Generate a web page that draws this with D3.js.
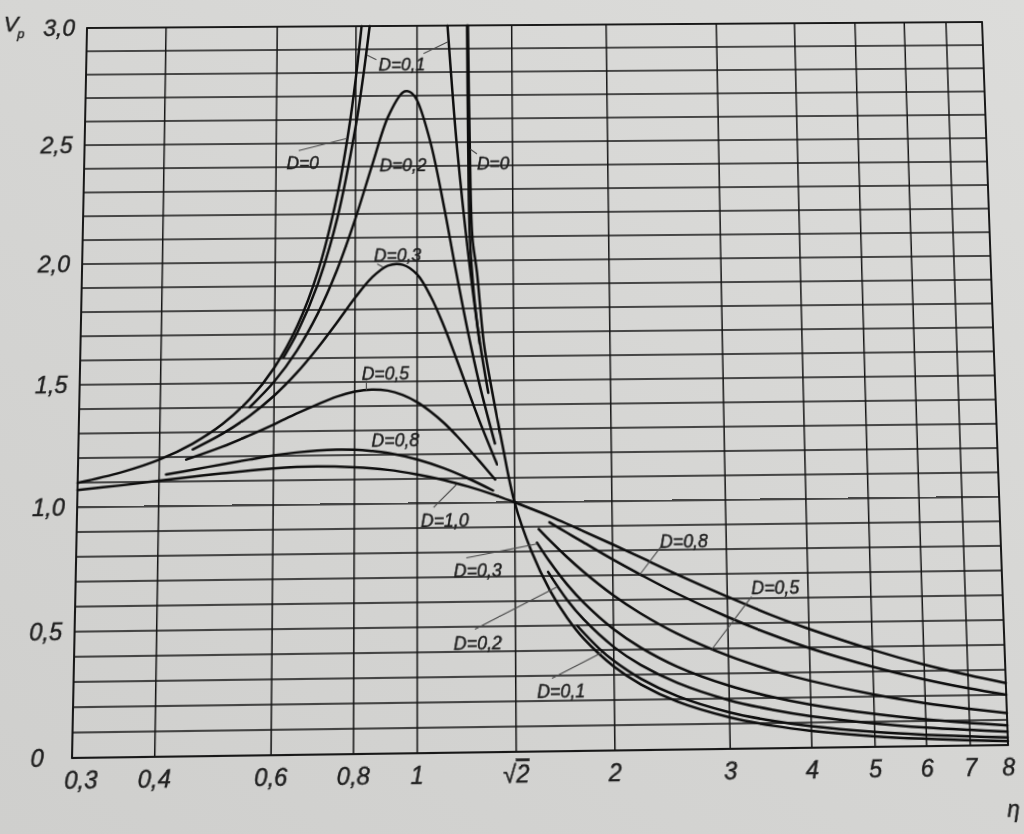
<!DOCTYPE html>
<html>
<head>
<meta charset="utf-8">
<script src="https://cdn.jsdelivr.net/npm/d3@7"></script>
<style>
  html, body { margin: 0; padding: 0; width: 1024px; height: 834px; overflow: hidden;
    background: linear-gradient(35deg, #cfcfcd 0%, #d6d6d4 55%, #dcdcda 100%); }
  #chart { position: absolute; left: 0; top: 0; transform-origin: 0 0; overflow: visible; }
  text { font-family: "Liberation Sans", Arial, sans-serif; font-style: italic; fill: #1f1f1f;
    stroke: #1f1f1f; stroke-width: 0.45px; }
</style>
</head>
<body>
<svg id="chart" width="1024" height="834"></svg>
<script>
// axis ticks
const etaTicks = [0.3, 0.4, 0.6, 0.8, 1, Math.SQRT2, 2, 3, 4, 5, 6, 7, 8];
const etaTickLabels = ["0,3", "0,4", "0,6", "0,8", "1", "√2", "2", "3", "4", "5", "6", "7", "8"];
const vTicks = [0, 0.5, 1, 1.5, 2, 2.5, 3];
const vTickLabels = ["0", "0,5", "1,0", "1,5", "2,0", "2,5", "3,0"];

// curves, [eta, Vp]
const d0Left = [[0.3,1.099],[0.35,1.14],[0.4,1.19],[0.45,1.254],[0.5,1.333],[0.55,1.434],[0.6,1.5625],
  [0.65,1.732],[0.7,1.961],[0.75,2.286],[0.78,2.554],[0.8,2.778],[0.8165,3.0]];
const d0Right = [[1.205,3.0],[1.211,2.5],[1.221,2.1],[1.241,1.95],[1.271,1.653],[1.30,1.495],[1.354,1.243],
  [1.414,1.0],[1.5,0.8],[1.6,0.641],[1.7,0.529],[1.8,0.446],[2.0,0.333],[2.2,0.26],[2.5,0.19],[3,0.125],
  [3.5,0.089],[4,0.067],[5,0.042],[6,0.029],[7,0.021],[8,0.016]];
const d0RightInner = [[1.201,3.0],[1.204,2.5],[1.21,2.1],[1.228,1.85],[1.252,1.653]];
const d01Left = [[0.62,1.605],[0.65,1.704],[0.7,1.909],[0.75,2.186],[0.8,2.571],[0.82,2.766],[0.83,2.875],[0.841,3.0]];
const d01Right = [[1.118,3.0],[1.137,2.724],[1.157,2.47],[1.2,2.052],[1.25,1.675],[1.29,1.45]];
const d01Tail = [[1.76,0.498],[1.9,0.406],[2.0,0.356],[2.2,0.283],[2.5,0.212],[3,0.145],[3.5,0.108],
  [4,0.085],[5,0.059],[6,0.045],[7,0.036],[8,0.030]];
const d02Peak = [[0.55,1.4],[0.6,1.505],[0.65,1.632],[0.7,1.785],[0.75,1.968],[0.8,2.18],[0.85,2.407],
  [0.9,2.611],[0.95,2.715],[0.965,2.72],[0.98,2.712],[1.0,2.68],[1.05,2.5],[1.1,2.241],[1.15,1.959],
  [1.2,1.704],[1.25,1.486],[1.32,1.241]];
const d02Tail = [[1.59,0.716],[1.7,0.602],[1.8,0.524],[2.0,0.412],[2.2,0.338],[2.5,0.265],[3,0.193],
  [3.5,0.152],[4,0.125],[5,0.093],[6,0.074],[7,0.062],[8,0.053]];
const d03Peak = [[0.45,1.23],[0.5,1.293],[0.55,1.365],[0.6,1.447],[0.65,1.54],[0.7,1.642],[0.75,1.747],
  [0.8,1.849],[0.85,1.933],[0.9,1.982],[0.95,1.985],[1.0,1.944],[1.05,1.852],[1.1,1.73],[1.15,1.595],
  [1.2,1.46],[1.25,1.333],[1.33,1.155]];
const d03Tail = [[1.53,0.835],[1.6,0.757],[1.7,0.665],[1.8,0.592],[2.0,0.483],[2.2,0.408],[2.5,0.33],
  [3,0.251],[3.5,0.203],[4,0.171],[5,0.131],[6,0.106],[7,0.09],[8,0.078]];
const d05Peak = [[0.44,1.189],[0.5,1.24],[0.55,1.285],[0.6,1.329],[0.65,1.372],[0.7,1.409],[0.75,1.44],
  [0.8,1.46],[0.85,1.468],[0.9,1.463],[0.95,1.444],[1.0,1.414],[1.05,1.374],[1.1,1.328],[1.15,1.276],
  [1.2,1.222],[1.25,1.168],[1.32,1.094]];
const d05Tail = [[1.54,0.89],[1.6,0.844],[1.7,0.776],[1.8,0.717],[2.0,0.62],[2.2,0.546],[2.5,0.463],
  [3,0.37],[3.5,0.309],[4,0.266],[5,0.208],[6,0.171],[7,0.146],[8,0.127]];
const d08Peak = [[0.41,1.129],[0.45,1.147],[0.5,1.168],[0.55,1.186],[0.6,1.202],[0.65,1.213],[0.7,1.22],
  [0.75,1.223],[0.8,1.222],[0.85,1.216],[0.9,1.207],[1.0,1.179],[1.1,1.142],[1.2,1.099],[1.31,1.049]];
const d08Tail = [[1.6,0.917],[1.7,0.875],[1.8,0.836],[2.0,0.764],[2.2,0.703],[2.5,0.625],[3,0.526],
  [3.5,0.453],[4,0.397],[5,0.319],[6,0.266],[7,0.228],[8,0.2]];
const d10 = [[0.3,1.07],[0.35,1.087],[0.4,1.104],[0.45,1.119],[0.5,1.131],[0.6,1.149],[0.7,1.155],
  [0.8,1.15],[0.9,1.138],[1.0,1.118],[1.1,1.094],[1.2,1.066],[1.3,1.036],[1.414,1.0],[1.5,0.973],
  [1.6,0.942],[1.8,0.881],[2.0,0.825],[2.2,0.773],[2.5,0.703],[3,0.608],[3.5,0.532],[4,0.474],
  [5,0.387],[6,0.325],[7,0.281],[8,0.247]];

const curves = [d0Left, d0Right, d0RightInner, d01Left, d01Right, d01Tail, d02Peak, d02Tail,
  d03Peak, d03Tail, d05Peak, d05Tail, d08Peak, d08Tail, d10];

// curve labels: text, anchor [eta, Vp] and leader lines
const labels = [
  {t: "D=0,1", at: [0.869, 2.81], lead: [[[0.862,2.855],[0.833,2.875]], [[1.024,2.88],[1.12,2.93]]]},
  {t: "D=0",   at: [0.623, 2.39], lead: [[[0.651,2.47],[0.775,2.52]]]},
  {t: "D=0,2", at: [0.873, 2.38], lead: []},
  {t: "D=0",   at: [1.243, 2.385], lead: [[[1.214,2.47],[1.243,2.45]]]},
  {t: "D=0,3", at: [0.856, 2.0], lead: [[[0.866,1.99],[0.886,1.975]]]},
  {t: "D=0,5", at: [0.82, 1.51], lead: [[[0.834,1.505],[0.834,1.466]]]},
  {t: "D=0,8", at: [0.85, 1.235], lead: []},
  {t: "D=1,0", at: [1.013, 0.904], lead: [[[1.06,0.983],[1.15,1.075]]]},
  {t: "D=0,3", at: [1.138, 0.70], lead: [[[1.19,0.777],[1.53,0.83]]]},
  {t: "D=0,2", at: [1.1375, 0.41], lead: [[[1.226,0.49],[1.64,0.655]]]},
  {t: "D=0,1", at: [1.524, 0.214], lead: [[[1.607,0.29],[1.918,0.39]]]},
  {t: "D=0,8", at: [2.37, 0.81], lead: [[[2.38,0.815],[2.2,0.70]]]},
  {t: "D=0,5", at: [3.27, 0.615], lead: [[[3.27,0.607],[2.83,0.397]]]}
];

const L = 95, R = 1005, T = 30, B = 750;
const svg = d3.select("#chart");

const x = d3.scaleLog().domain([0.3, 8]).range([L, R]);
const y = d3.scaleLinear().domain([0, 3]).range([B, T]);

// grid
const grid = svg.append("g").attr("stroke", "#161616").attr("stroke-width", 1.5);
grid.selectAll("line.h").data(y.ticks(30)).enter().append("line")
  .attr("x1", L).attr("x2", R)
  .attr("y1", d => y(d)).attr("y2", d => y(d));
grid.selectAll("line.v").data(etaTicks).enter().append("line")
  .attr("x1", d => x(d)).attr("x2", d => x(d))
  .attr("y1", T).attr("y2", B);
svg.append("rect")
  .attr("x", L).attr("y", T).attr("width", R - L).attr("height", B - T)
  .attr("fill", "none").attr("stroke", "#141414").attr("stroke-width", 1.8);

// curves
const line = d3.line()
  .x(d => x(d[0]))
  .y(d => y(d[1]))
  .curve(d3.curveCatmullRom.alpha(0.5));

svg.append("g").selectAll("path").data(curves).enter().append("path")
  .attr("d", line)
  .attr("fill", "none")
  .attr("stroke", "#0e0e0e")
  .attr("stroke-width", 2.5)
  .attr("stroke-linecap", "round");

// leaders + labels
const lab = svg.append("g");
labels.forEach(function(l) {
  l.lead.forEach(function(seg) {
    lab.append("line")
      .attr("x1", x(seg[0][0])).attr("y1", y(seg[0][1]))
      .attr("x2", x(seg[1][0])).attr("y2", y(seg[1][1]))
      .attr("stroke", "#4a4a4a").attr("stroke-width", 1.1);
  });
  lab.append("text")
    .attr("x", x(l.at[0])).attr("y", y(l.at[1]))
    .attr("font-size", "17.5px")
    .text(l.t);
});

// axis labels
svg.append("g").selectAll("text").data(vTicks).enter().append("text")
  .attr("x", (d, i) => i === 0 ? 55 : 51)
  .attr("y", d => y(d))
  .attr("dy", "0.36em")
  .attr("font-size", "23px")
  .text((d, i) => vTickLabels[i]);

const xl = svg.append("g").selectAll("text").data(etaTicks).enter().append("text")
  .attr("x", (d, i) => x(d) + (i === 0 ? 9 : 0))
  .attr("y", B + 29)
  .attr("text-anchor", "middle")
  .attr("font-size", "23px");
xl.each(function(d, i) {
  let s = etaTickLabels[i];
  let t = d3.select(this);
  if (s.charAt(0) === "√") {
    t.append("tspan").text("√");
    t.append("tspan").style("text-decoration", "overline").text(s.slice(1));
  } else {
    t.text(s);
  }
});

svg.append("text").attr("x", 1008).attr("y", 818).attr("text-anchor", "middle")
  .attr("font-size", "22px").text("η");
svg.append("text").attr("x", 11).attr("y", 33).attr("font-size", "22px").text("V");
svg.append("text").attr("x", 25).attr("y", 40).attr("font-size", "13px").text("p");

// photo is taken at a slant: map the flat plot frame onto the photographed frame
function homography(src, dst) {
  let A = [], b = [];
  for (let i = 0; i < 4; i++) {
    let [sx, sy] = src[i], [u, v] = dst[i];
    A.push([sx, sy, 1, 0, 0, 0, -sx * u, -sy * u]); b.push(u);
    A.push([0, 0, 0, sx, sy, 1, -sx * v, -sy * v]); b.push(v);
  }
  for (let c = 0; c < 8; c++) {
    let p = c;
    for (let r = c + 1; r < 8; r++) if (Math.abs(A[r][c]) > Math.abs(A[p][c])) p = r;
    [A[c], A[p]] = [A[p], A[c]]; [b[c], b[p]] = [b[p], b[c]];
    for (let r = 0; r < 8; r++) {
      if (r === c) continue;
      let f = A[r][c] / A[c][c];
      for (let k = c; k < 8; k++) A[r][k] -= f * A[c][k];
      b[r] -= f * b[c];
    }
  }
  return b.map((v, i) => v / A[i][i]);
}
const h = homography(
  [[L, T], [R, T], [R, B], [L, B]],
  [[87, 28], [982, 22], [1008, 745], [72, 758]]);
svg.style("transform", "matrix3d(" + [h[0], h[3], 0, h[6], h[1], h[4], 0, h[7], 0, 0, 1, 0, h[2], h[5], 0, 1].join(",") + ")");
</script>
</body>
</html>
